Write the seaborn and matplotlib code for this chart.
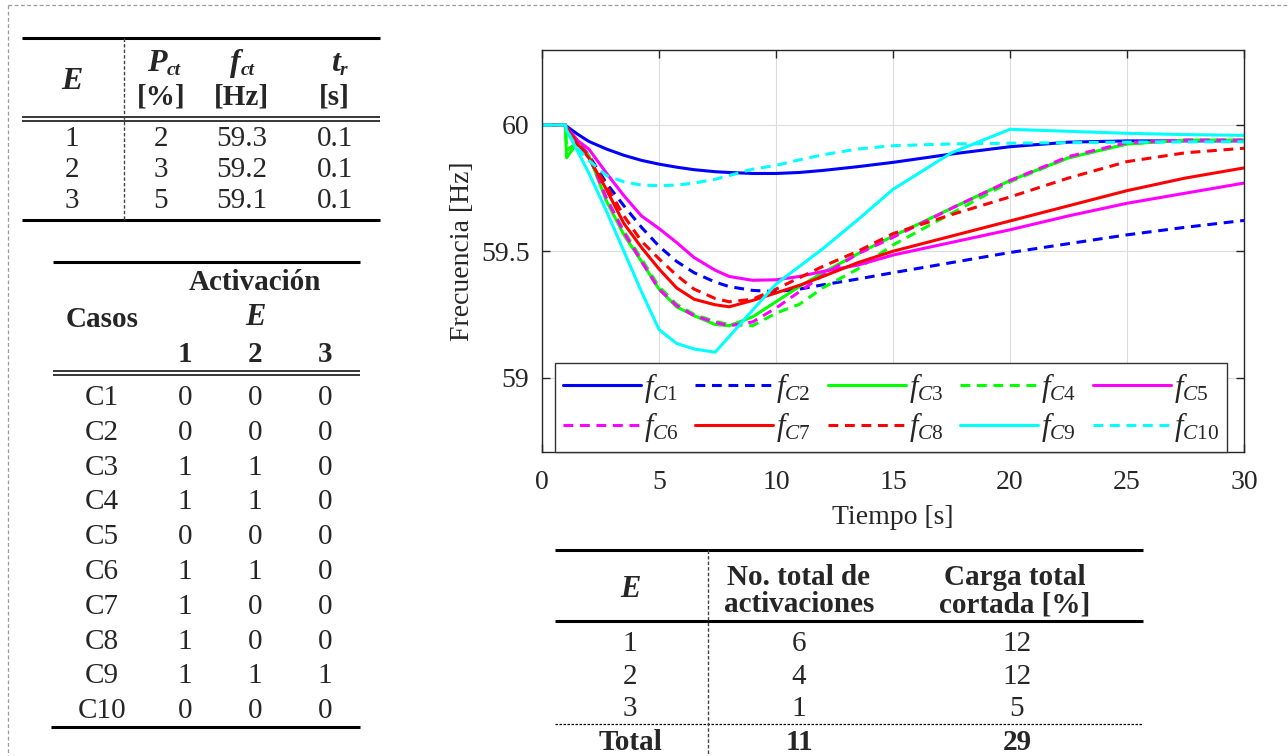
import matplotlib
matplotlib.use("Agg")
import matplotlib.pyplot as plt
import seaborn as sns
import pandas as pd

sns.set_style("ticks")
plt.rcParams["font.family"] = ["Liberation Serif", "DejaVu Serif"]
plt.rcParams["mathtext.fontset"] = "custom"
plt.rcParams["mathtext.rm"] = "Liberation Serif"
plt.rcParams["mathtext.it"] = "Liberation Serif:italic"

# --- frequency responses ---
time_s = [0, 1, 1.05, 1.5, 2, 2.75, 3.5, 4.25, 5, 5.75, 6.5, 7.4, 8, 9, 10, 11,
          12, 13.5, 15, 17.5, 20, 22.5, 25, 27.5, 30]
f_c1 = [60, 60, 59.995, 59.965, 59.935, 59.905, 59.88, 59.86, 59.845, 59.833, 59.823,
        59.815, 59.812, 59.808, 59.808, 59.812, 59.82, 59.835, 59.852, 59.885, 59.914,
        59.932, 59.937, 59.937, 59.937]
f_c2 = [60, 60, 59.99, 59.94, 59.88, 59.77, 59.68, 59.595, 59.52, 59.46, 59.415,
        59.378, 59.36, 59.345, 59.34, 59.35, 59.367, 59.39, 59.415, 59.455, 59.495,
        59.53, 59.565, 59.595, 59.622]
f_c3 = [60, 60, 59.87, 59.93, 59.88, 59.70, 59.565, 59.46, 59.35, 59.28, 59.245,
        59.21, 59.205, 59.24, 59.30, 59.36, 59.415, 59.49, 59.56, 59.67, 59.78,
        59.87, 59.925, 59.94, 59.94]
f_c4 = [60, 60, 59.9, 59.93, 59.88, 59.71, 59.58, 59.47, 59.36, 59.29, 59.25,
        59.222, 59.21, 59.205, 59.255, 59.29, 59.355, 59.43, 59.525, 59.65, 59.775,
        59.87, 59.925, 59.94, 59.94]
f_c5 = [60, 60, 59.99, 59.94, 59.905, 59.81, 59.72, 59.64, 59.59, 59.535, 59.475,
        59.425, 59.40, 59.385, 59.387, 59.40, 59.42, 59.445, 59.485, 59.535, 59.585,
        59.64, 59.69, 59.73, 59.77]
f_c6 = [60, 60, 59.99, 59.93, 59.88, 59.71, 59.575, 59.46, 59.35, 59.285, 59.245,
        59.218, 59.205, 59.22, 59.275, 59.34, 59.405, 59.49, 59.555, 59.67, 59.78,
        59.875, 59.93, 59.94, 59.94]
f_c7 = [60, 60, 59.99, 59.925, 59.87, 59.745, 59.61, 59.515, 59.43, 59.355, 59.31,
        59.288, 59.28, 59.305, 59.335, 59.365, 59.40, 59.455, 59.50, 59.56, 59.62,
        59.68, 59.74, 59.79, 59.83]
f_c8 = [60, 60, 59.99, 59.93, 59.875, 59.76, 59.64, 59.54, 59.47, 59.405, 59.35,
        59.313, 59.30, 59.31, 59.35, 59.395, 59.44, 59.50, 59.57, 59.645, 59.715,
        59.79, 59.855, 59.89, 59.908]
f_c9 = [60, 60, 59.98, 59.90, 59.81, 59.66, 59.50, 59.34, 59.19, 59.135, 59.113,
        59.10, 59.162, 59.267, 59.37, 59.44, 59.51, 59.625, 59.745, 59.89, 59.983,
        59.975, 59.967, 59.962, 59.959]
f_c10 = [60, 60, 59.98, 59.91, 59.86, 59.80, 59.775, 59.762, 59.76, 59.762, 59.77,
         59.785, 59.80, 59.825, 59.84, 59.862, 59.882, 59.905, 59.918, 59.925, 59.928,
         59.93, 59.932, 59.933, 59.934]

cases = ["C1", "C2", "C3", "C4", "C5", "C6", "C7", "C8", "C9", "C10"]
series = [f_c1, f_c2, f_c3, f_c4, f_c5, f_c6, f_c7, f_c8, f_c9, f_c10]
case_colors = ["#0000ff", "#0000ff", "#00ff00", "#00ff00", "#ff00ff",
               "#ff00ff", "#ff0000", "#ff0000", "#00ffff", "#00ffff"]
case_dashed = [False, True, False, True, False, True, False, True, False, True]

x_ticks = [0, 5, 10, 15, 20, 25, 30]
y_ticks = [59, 59.5, 60]
y_tick_labels = ["59", "59.5", "60"]

# --- table contents ---
stage_ids = ["1", "2", "3"]
stage_pct = ["2", "3", "5"]
stage_fct = ["59.3", "59.2", "59.1"]
stage_tr = ["0.1", "0.1", "0.1"]

act_e1 = [0, 0, 1, 1, 0, 1, 1, 1, 1, 0]
act_e2 = [0, 0, 1, 1, 0, 1, 0, 0, 1, 0]
act_e3 = [0, 0, 0, 0, 0, 0, 0, 0, 1, 0]

total_act = [6, 4, 1]
total_load = [12, 12, 5]

W, H = 1288, 756
TXT = 21

fig = plt.figure(figsize=(W / 100, H / 100), dpi=100)

# overlay in pixel coordinates for the tables
lay = fig.add_axes([0, 0, 1, 1])
lay.set_xlim(0, W)
lay.set_ylim(H, 0)
lay.axis("off")


def hline(y, x0, x1, lw=2.2, ls="-", color="black"):
    lay.plot([x0, x1], [y, y], color=color, lw=lw, ls=ls, solid_capstyle="butt")


def vline(x, y0, y1):
    lay.plot([x, x], [y0, y1], color="#444444", lw=1.0, ls=(0, (2.5, 1.5)))


def txt(x, y, s, size=TXT, **kw):
    lay.text(x, y, s, fontsize=size, ha="center", va="baseline", **kw)


def subsym(x, y, main, sub):
    lay.text(x, y, main, fontsize=TXT + 2, ha="right", va="baseline",
             fontweight="bold", fontstyle="italic")
    lay.text(x, y + 4, sub, fontsize=TXT - 7, ha="left", va="baseline",
             fontweight="bold", fontstyle="italic")


# outer dashed frame
lay.plot([8, 8], [5, H], color="#9a9a9a", lw=0.9, ls=(0, (3, 2)))
lay.plot([8, W], [5, 5], color="#9a9a9a", lw=0.9, ls=(0, (3, 2)))

# table 1: stage settings
hline(38, 22, 380)
hline(117, 22, 380, lw=1.1)
hline(121, 22, 380, lw=1.1)
hline(220, 22, 380)
vline(124, 38, 220)
txt(72, 89, "E", size=TXT + 2, fontweight="bold", fontstyle="italic")
subsym(167, 71, "P", "ct")
subsym(241, 71, "f", "ct")
subsym(340, 71, "t", "r")
txt(161, 105, "[%]", fontweight="bold")
txt(241, 105, "[Hz]", fontweight="bold")
txt(334, 105, "[s]", fontweight="bold")
for i in range(3):
    yb = 146 + 31 * i
    txt(72, yb, stage_ids[i])
    txt(161, yb, stage_pct[i])
    txt(242, yb, stage_fct[i])
    txt(335, yb, stage_tr[i])

# table 2: activation per case
hline(262, 53, 360)
hline(371, 53, 360, lw=1.1)
hline(375, 53, 360, lw=1.1)
hline(727, 51, 360)
txt(255, 290, "Activación", fontweight="bold")
txt(255, 325, "E", size=TXT + 1, fontweight="bold", fontstyle="italic")
txt(102, 327, "Casos", fontweight="bold")
for j, xc in enumerate([185, 255, 325]):
    txt(xc, 362, str(j + 1), fontweight="bold")
for i, c in enumerate(cases):
    yb = 405 + 34.8 * i
    txt(102, yb, c)
    txt(185, yb, str(act_e1[i]))
    txt(255, yb, str(act_e2[i]))
    txt(325, yb, str(act_e3[i]))

# table 3: totals
hline(550, 555, 1143)
hline(621, 555, 1143)
hline(724, 555, 1143, lw=0.9, ls=(0, (2, 1.2)))
vline(708, 550, H)
txt(630, 597, "E", size=TXT + 1, fontweight="bold", fontstyle="italic")
txt(799, 585, "No. total de", fontweight="bold")
txt(799, 612, "activaciones", fontweight="bold")
txt(1015, 585, "Carga total", fontweight="bold")
txt(1015, 612, "cortada [%]", fontweight="bold")
for i in range(3):
    yb = 651 + 32.5 * i
    txt(630, yb, stage_ids[i])
    txt(799, yb, str(total_act[i]))
    txt(1017, yb, str(total_load[i]))
txt(630, 750, "Total", fontweight="bold")
txt(799, 750, str(sum(total_act)), fontweight="bold")
txt(1017, 750, str(sum(total_load)), fontweight="bold")

# --- frequency chart ---
ax = fig.add_axes([542 / W, 1 - 452 / H, 702 / W, 402 / H])
rows = []
for c, vals in zip(cases, series):
    for t, f in zip(time_s, vals):
        rows.append({"case": c, "t": t, "f": f})
df = pd.DataFrame(rows)

for c, col, dsh in zip(cases, case_colors, case_dashed):
    sns.lineplot(data=df[df["case"] == c], x="t", y="f", color=col, lw=2.2,
                 errorbar=None, ax=ax, label="$f_{%s}$" % c,
                 linestyle=(0, (3.2, 2.2)) if dsh else "-",
                 dash_capstyle="butt")

ax.set_xlim(0, 30)
ax.set_ylim(58.705, 60.297)
ax.set_xticks(x_ticks)
ax.set_yticks(y_ticks)
ax.set_yticklabels(y_tick_labels)
ax.grid(True, color="#dcdcdc", lw=0.8)
ax.tick_params(direction="in", length=6, width=1, top=True, right=True,
               labelsize=20, color="#262626")
ax.tick_params(axis="y", pad=9)
ax.tick_params(axis="x", pad=13)
for s in ax.spines.values():
    s.set_color("#262626")
    s.set_linewidth(1.0)
ax.set_xlabel("Tiempo [s]", fontsize=20, labelpad=7)
ax.set_ylabel("Frecuencia [Hz]", fontsize=20, labelpad=4)

handles, labels = ax.get_legend_handles_labels()
order = [0, 5, 1, 6, 2, 7, 3, 8, 4, 9]
leg = ax.legend([handles[k] for k in order], [labels[k] for k in order], ncol=5,
                loc="lower left", bbox_to_anchor=(0.0185, 0.0), borderaxespad=0,
                fancybox=False, edgecolor="#333333", framealpha=1, fontsize=22,
                handlelength=2.55, handletextpad=0.1, columnspacing=0.55,
                labelspacing=0.18, borderpad=0.25)
leg.get_frame().set_linewidth(1.0)

fig.savefig("out.png", dpi=100)
